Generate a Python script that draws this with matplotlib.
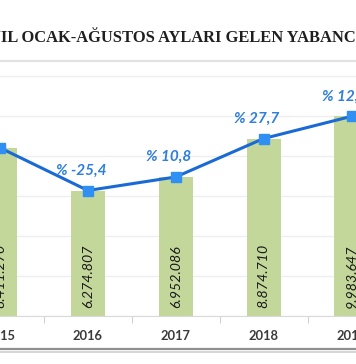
import matplotlib.pyplot as plt
from matplotlib.lines import Line2D
import numpy as np

# veriler
yillar = ['2015', '2016', '2017', '2018', '2019']
ziyaretci = [8411270, 6274807, 6952086, 8874710, 9983647]
degisim = [None, -25.4, 10.8, 27.7, 12.5]
baslik = 'SON 5 YIL OCAK-AĞUSTOS AYLARI GELEN YABANCI ZİYARETÇİ SAYISI'

W, H = 356, 364
fig = plt.figure(figsize=(W / 100, H / 100), dpi=100)

# eksen: 0 -> 316px, 20px / milyon
ax = fig.add_axes([0, 48 / H, 1, 255 / H])
x = np.arange(len(yillar))
px0, step = -4.5, 89.0
ax.set_xlim((0 - px0) / step, (W - px0) / step)
ax.set_ylim(0, 12.75e6)

ax.bar(x, ziyaretci, width=0.39, color='#c4d79b', zorder=2)
ax.plot(x, ziyaretci, color='#1a6ad6', lw=2.2, marker='s', markersize=7.5,
        markerfacecolor='#2f8ff2', markeredgecolor='#2f8ff2', zorder=3)

for xi, v in zip(x, ziyaretci):
    s = f'{v:,}'.replace(',', '.')
    ax.annotate(s, (xi, 0), xytext=(0, 8), textcoords='offset pixels',
                rotation=90, ha='center', va='bottom', fontsize=10.2,
                style='italic', color='#1a1a1a', family='Lato')

for xi, v, d in zip(x, ziyaretci, degisim):
    if d is None:
        continue
    s = ('% ' + f'{d:.1f}').replace('.', ',')
    ax.annotate(s, (xi, v), xytext=(-7, 20), textcoords='offset pixels',
                ha='center', va='center', fontsize=11, style='italic',
                weight='bold', color='#2e7fd9', family='Lato')

ax.set_yticks(np.arange(0, 12.1e6, 2e6))
ax.yaxis.grid(True, color='#eeeeee', lw=1)
ax.set_axisbelow(True)
ax.tick_params(axis='y', left=False, labelleft=False)
ax.set_xticks(x)
ax.set_xticklabels(yillar, fontsize=9.3, weight='bold', color='#3a3a3a',
                   family='Lato')
ax.tick_params(axis='x', length=0, pad=10)
ax.set_xticks(x[:-1] + 0.5, minor=True)
ax.tick_params(axis='x', which='minor', length=5, color='#c8c8c8')
for k in ['top', 'left', 'right']:
    ax.spines[k].set_visible(False)
ax.spines['bottom'].set_color('#d9d9d9')

# cerceve cizgileri
fig.add_artist(Line2D([0, 1], [1 - 61 / H, 1 - 61 / H], color='#e3e3e3', lw=1.6))
fig.add_artist(Line2D([0, 1], [1 - 349 / H, 1 - 349 / H], color='#8f8f8f', lw=1.6))
fig.add_artist(Line2D([0, 1], [1 - 351.5 / H, 1 - 351.5 / H], color='#d0d0d0', lw=1.2))

# baslik: "YIL" kelimesinin "IL" kismi sol kenardan baslasin
fs = 11.9
t = fig.text(0, 1 - 37 / H, baslik, ha='left', va='center', fontsize=fs,
             weight='bold', color='#1f1f1f', family='Liberation Serif')
r = fig.canvas.get_renderer()
on = fig.text(0, 0, 'SON 5 Y', fontsize=fs, weight='bold',
              family='Liberation Serif')
w = on.get_window_extent(r).width
on.remove()
t.set_x((1 - w) / W)

fig.savefig('out.png', dpi=100)
